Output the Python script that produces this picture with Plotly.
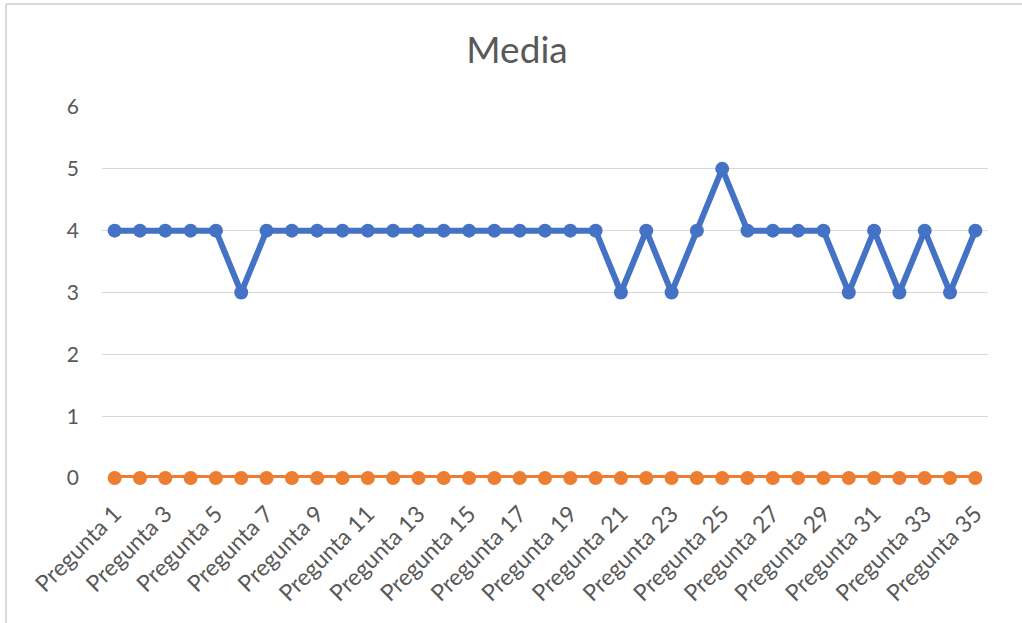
import plotly.graph_objects as go

# Categories and series
preguntas = [f"Pregunta {i}" for i in range(1, 36)]
media = [4, 4, 4, 4, 4, 3, 4, 4, 4, 4,
         4, 4, 4, 4, 4, 4, 4, 4, 4, 4,
         3, 4, 3, 4, 5, 4, 4, 4, 4, 3,
         4, 3, 4, 3, 4]
serie_cero = [0] * 35
y_ticks = [0, 1, 2, 3, 4, 5, 6]

BLUE = "#4472C4"
ORANGE = "#ED7D31"
TEXT = "#595959"
GRID = "#D9D9D9"
FONT = "Lato, Roboto, Arial, sans-serif"

fig = go.Figure()
fig.add_trace(go.Scatter(
    x=preguntas, y=media, mode="lines+markers",
    line=dict(color=BLUE, width=6),
    marker=dict(color=BLUE, size=14),
    showlegend=False, cliponaxis=False,
))
fig.add_trace(go.Scatter(
    x=preguntas, y=serie_cero, mode="lines+markers",
    line=dict(color=ORANGE, width=6),
    marker=dict(color=ORANGE, size=14),
    showlegend=False, cliponaxis=False,
))

fig.update_layout(
    width=1022, height=623,
    margin=dict(l=102, r=34, t=107, b=145),
    paper_bgcolor="white", plot_bgcolor="white",
    font=dict(family=FONT, color=TEXT, size=21),
    title=dict(text="Media", x=517 / 1022, xref="container", xanchor="center",
               y=1 - 50 / 623, yref="container", yanchor="middle",
               font=dict(size=37, color=TEXT, family=FONT)),
    xaxis=dict(
        type="category", categoryorder="array", categoryarray=preguntas,
        range=[-0.5, 34.5], tickmode="array", tickvals=preguntas[::2],
        tickangle=-45, showgrid=False, showline=False, zeroline=False,
        ticks="", ticklabelstandoff=17, tickfont=dict(size=23, color=TEXT),
    ),
    yaxis=dict(
        range=[0, 6], tickvals=y_ticks, showgrid=True, gridcolor=GRID,
        gridwidth=1, zeroline=False, showline=False, ticks="",
        ticklabelstandoff=22, tickfont=dict(size=21, color=TEXT),
    ),
    shapes=[
        dict(type="line", xref="paper", yref="paper", x0=-96 / 886, x1=1.05,
             y0=1 + 103 / 371, y1=1 + 103 / 371, line=dict(color="#D9D9D9", width=2)),
        dict(type="line", xref="paper", yref="paper", x0=-96 / 886, x1=-96 / 886,
             y0=1 + 103 / 371, y1=-0.5, line=dict(color="#D9D9D9", width=2)),
    ],
)

fig.write_html("out.html")
